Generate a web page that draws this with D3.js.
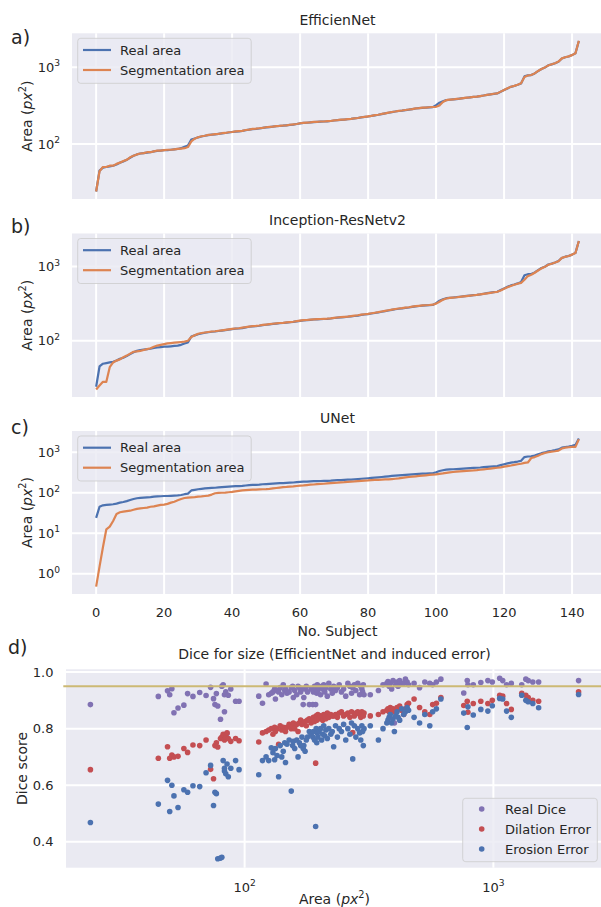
<!DOCTYPE html>
<html>
<head>
<meta charset="utf-8">
<script src="https://cdn.jsdelivr.net/npm/d3@7"></script>
<style>
  body { margin: 0; background: #ffffff; }
  svg { display: block; }
  text { font-family: "DejaVu Sans", sans-serif; fill: #262626; }
</style>
</head>
<body>
<svg id="fig" width="601" height="907"></svg>
<script>
// ---- data ---------------------------------------------------------------
// Lesion area per subject (sorted), in px^2
const realArea = [
  24, 45, 49, 50, 51, 52, 54, 57, 59, 62,
  66, 70, 73, 75, 76, 77, 78, 80, 81, 82,
  83, 83, 84, 85, 86, 88, 92, 95, 114, 118,
  122, 125, 128, 130, 132, 133, 135, 137, 139, 141,
  143, 145, 146, 148, 151, 154, 156, 157, 159, 162,
  164, 166, 168, 170, 172, 173, 175, 177, 179, 182,
  185, 188, 189, 191, 193, 194, 195, 196, 197, 199,
  202, 204, 206, 208, 210, 212, 215, 218, 222, 225,
  228, 232, 236, 240, 245, 250, 255, 260, 265, 269,
  272, 276, 280, 285, 290, 293, 296, 298, 300, 302,
  320, 345, 360, 373, 377, 381, 385, 390, 395, 400,
  405, 410, 414, 420, 428, 436, 443, 450, 456, 480,
  505, 530, 555, 570, 590, 615, 760, 785, 790, 830,
  890, 950, 990, 1060, 1090, 1130, 1180, 1300, 1350, 1380,
  1440, 1520, 2200
];

const segEfficientNet = [
  24, 44, 50, 50, 52, 52, 55, 57, 60, 62,
  67, 70, 73, 75, 76, 78, 78, 80, 82, 82,
  83, 84, 84, 85, 86, 87, 88, 91, 108, 117,
  122, 126, 128, 131, 132, 134, 135, 138, 139, 142,
  143, 146, 147, 148, 152, 154, 157, 158, 160, 162,
  165, 167, 168, 171, 172, 174, 175, 178, 180, 182,
  186, 188, 190, 191, 194, 194, 196, 196, 198, 199,
  203, 204, 207, 208, 211, 212, 216, 218, 223, 225,
  229, 232, 237, 240, 246, 250, 256, 261, 265, 270,
  273, 277, 281, 285, 291, 293, 297, 298, 301, 303,
  305, 318, 352, 372, 378, 380, 386, 390, 396, 401,
  405, 411, 414, 421, 428, 437, 443, 451, 456, 481,
  506, 531, 556, 571, 591, 618, 745, 780, 792, 832,
  895, 950, 995, 1055, 1092, 1130, 1185, 1305, 1350, 1385,
  1440, 1525, 2210
];

const segInception = [
  22, 25, 28, 28, 44, 51, 54, 56, 60, 63,
  67, 71, 72, 73, 75, 77, 79, 83, 86, 88,
  90, 92, 93, 94, 95, 96, 97, 100, 112, 118,
  124, 127, 129, 131, 133, 134, 136, 138, 140, 142,
  144, 146, 147, 150, 152, 155, 157, 158, 160, 163,
  165, 167, 169, 171, 173, 174, 176, 178, 180, 183,
  186, 189, 190, 192, 194, 195, 196, 197, 198, 200,
  203, 205, 207, 209, 211, 214, 217, 220, 224, 227,
  230, 234, 238, 242, 247, 252, 257, 262, 267, 271,
  274, 278, 282, 287, 292, 295, 298, 300, 302, 305,
  315, 335, 355, 370, 376, 380, 384, 389, 394, 399,
  404, 409, 413, 419, 426, 434, 441, 449, 455, 475,
  500, 525, 545, 565, 585, 600, 660, 740, 770, 820,
  880, 940, 985, 1050, 1085, 1125, 1175, 1300, 1345, 1380,
  1440, 1515, 2200
];

const segUNet = [
  0.48, 1.5, 4.5, 12.5, 14.5, 20, 30, 33, 34, 35,
  36, 38, 40, 41, 42, 43, 45, 46, 48, 50,
  51, 53, 57, 60, 65, 70, 74, 76, 77, 78,
  80, 81, 83, 85, 90, 97, 99, 100, 101, 103,
  105, 108, 111, 114, 116, 118, 119, 120, 121, 122,
  123, 125, 128, 131, 134, 137, 139, 142, 144, 147,
  150, 152, 155, 158, 160, 163, 165, 167, 170, 173,
  176, 178, 181, 183, 186, 189, 191, 194, 197, 200,
  202, 205, 207, 209, 211, 213, 215, 218, 222, 226,
  233, 239, 245, 250, 255, 260, 265, 270, 275, 280,
  285, 292, 300, 310, 318, 325, 332, 338, 343, 348,
  352, 356, 362, 370, 378, 386, 395, 405, 415, 425,
  440, 455, 470, 490, 505, 520, 545, 560, 720, 760,
  820, 900, 960, 1000, 1040, 1060, 1100, 1240, 1300, 1330,
  1360, 1360, 2100
];

// Dice scores per subject (same order as realArea)
const diceReal = [
  0.885, 0.914, 0.934, 0.920, 0.941, 0.856, 0.873, 0.883, 0.924, 0.914,
  0.928, 0.917, 0.946, 0.906, 0.885, 0.924, 0.880, 0.833, 0.950, 0.955,
  0.860, 0.920, 0.930, 0.783, 0.918, 0.940, 0.897, 0.897, 0.915, 0.890,
  0.958, 0.920, 0.925, 0.930, 0.940, 0.905, 0.935, 0.930, 0.945, 0.920,
  0.955, 0.935, 0.940, 0.925, 0.930, 0.945, 0.950, 0.910, 0.935, 0.920,
  0.950, 0.945, 0.930, 0.940, 0.885, 0.910, 0.940, 0.950, 0.930, 0.885,
  0.940, 0.885, 0.930, 0.950, 0.885, 0.940, 0.925, 0.955, 0.935, 0.945,
  0.920, 0.950, 0.940, 0.955, 0.930, 0.945, 0.915, 0.960, 0.940, 0.925,
  0.950, 0.935, 0.945, 0.955, 0.930, 0.940, 0.915, 0.960, 0.950, 0.925,
  0.945, 0.955, 0.935, 0.960, 0.920, 0.950, 0.940, 0.930, 0.955, 0.920,
  0.920, 0.935, 0.955, 0.960, 0.967, 0.950, 0.960, 0.940, 0.970, 0.820,
  0.955, 0.965, 0.950, 0.970, 0.960, 0.960, 0.975, 0.965, 0.955, 0.960,
  0.945, 0.965, 0.960, 0.955, 0.965, 0.975, 0.926, 0.970, 0.955, 0.955,
  0.963, 0.970, 0.965, 0.978, 0.970, 0.955, 0.960, 0.955, 0.975, 0.970,
  0.965, 0.965, 0.970
];

const diceDilation = [
  0.655, 0.695, 0.736, 0.695, 0.707, 0.700, 0.702, 0.730, 0.716, 0.742,
  0.740, 0.760, 0.656, 0.623, 0.740, 0.750, 0.735, 0.765, 0.770, 0.780,
  0.775, 0.760, 0.770, 0.785, 0.765, 0.755, 0.765, 0.757, 0.753, 0.785,
  0.790, 0.795, 0.800, 0.780, 0.805, 0.790, 0.800, 0.745, 0.810, 0.795,
  0.805, 0.800, 0.790, 0.805, 0.815, 0.800, 0.810, 0.820, 0.800, 0.815,
  0.790, 0.820, 0.830, 0.815, 0.820, 0.820, 0.825, 0.810, 0.830, 0.835,
  0.820, 0.830, 0.840, 0.825, 0.678, 0.845, 0.830, 0.840, 0.850, 0.835,
  0.845, 0.840, 0.830, 0.850, 0.845, 0.835, 0.855, 0.840, 0.850, 0.845,
  0.845, 0.850, 0.840, 0.855, 0.860, 0.845, 0.850, 0.855, 0.840, 0.860,
  0.786, 0.845, 0.855, 0.860, 0.850, 0.840, 0.860, 0.850, 0.845, 0.855,
  0.845, 0.850, 0.860, 0.865, 0.870, 0.860, 0.875, 0.865, 0.870, 0.860,
  0.865, 0.875, 0.870, 0.880, 0.865, 0.850, 0.870, 0.885, 0.890, 0.905,
  0.875, 0.860, 0.850, 0.885, 0.890, 0.910, 0.882, 0.897, 0.858, 0.889,
  0.897, 0.889, 0.900, 0.918, 0.915, 0.889, 0.868, 0.925, 0.918, 0.910,
  0.900, 0.897, 0.930
];

const diceErosion = [
  0.468, 0.533, 0.617, 0.507, 0.600, 0.562, 0.521, 0.584, 0.575, 0.598,
  0.595, 0.644, 0.670, 0.528, 0.575, 0.570, 0.340, 0.342, 0.345, 0.687,
  0.660, 0.650, 0.640, 0.675, 0.630, 0.660, 0.687, 0.655, 0.637, 0.687,
  0.700, 0.687, 0.732, 0.715, 0.690, 0.730, 0.705, 0.630, 0.740, 0.700,
  0.720, 0.750, 0.680, 0.745, 0.760, 0.579, 0.740, 0.755, 0.730, 0.760,
  0.700, 0.750, 0.740, 0.770, 0.730, 0.740, 0.720, 0.760, 0.770, 0.790,
  0.780, 0.770, 0.790, 0.760, 0.454, 0.800, 0.750, 0.785, 0.770, 0.790,
  0.800, 0.760, 0.780, 0.810, 0.775, 0.795, 0.765, 0.800, 0.780, 0.790,
  0.736, 0.810, 0.770, 0.800, 0.790, 0.815, 0.760, 0.800, 0.780, 0.820,
  0.693, 0.810, 0.770, 0.800, 0.785, 0.760, 0.810, 0.790, 0.740, 0.800,
  0.810, 0.760, 0.800, 0.820, 0.830, 0.840, 0.850, 0.820, 0.835, 0.790,
  0.845, 0.860, 0.840, 0.830, 0.870, 0.850, 0.860, 0.875, 0.865, 0.840,
  0.820, 0.850, 0.810, 0.860, 0.870, 0.905, 0.855, 0.804, 0.877, 0.848,
  0.868, 0.862, 0.881, 0.907, 0.905, 0.862, 0.840, 0.918, 0.900, 0.895,
  0.889, 0.874, 0.921
];

const subjectTicks = [0, 20, 40, 60, 80, 100, 120, 140];
const diceTicks = [0.4, 0.6, 0.8, 1.0];
const areaTicksLog = [100, 1000];
const diceThreshold = 0.95;

const lineSeriesNames = ["Real area", "Segmentation area"];
const scatterSeriesNames = ["Real Dice", "Dilation Error", "Erosion Error"];

// ---- styling ------------------------------------------------------------
const COL = {
  bg: "#EAEAF2", grid: "#FFFFFF", text: "#262626",
  blue: "#4C72B0", orange: "#DD8452", red: "#C44E52",
  purple: "#8172B3", gold: "#CCB974", legendEdge: "#CCCCCC"
};
const TICK_FS = 13, LABEL_FS = 14, TITLE_FS = 14, LEG_FS = 13, TAG_FS = 19;

const svg = d3.select("#fig");
const defs = svg.append("defs");

// "10" with a superscript exponent
function powerLabel(sel, exp, fs) {
  sel.append("tspan").text("10");
  sel.append("tspan").attr("font-size", fs * 0.7).attr("dy", -fs * 0.42).text(exp);
}

// "Area (px²)" in math-style: italic px with superscript 2
function areaLabel(sel, fs) {
  sel.append("tspan").text("Area (");
  sel.append("tspan").attr("font-style", "italic").text("px");
  sel.append("tspan").attr("font-size", fs * 0.7).attr("dy", -fs * 0.42).text("2");
  sel.append("tspan").attr("dy", fs * 0.42).text(")");
}

function logPadded(lo, hi) {
  const span = Math.log10(hi / lo);
  const pad = Math.pow(10, 0.05 * span);
  return [lo / pad, hi * pad];
}

// ---- line panels (a, b, c) ----------------------------------------------
const lineLeft = 72, lineRight = 603;
const xSubj = d3.scaleLinear().domain([-7.1, 149.1]).range([lineLeft, lineRight]);

const linePanels = [
  { tag: "a)", tagY: 44.2, title: "EfficienNet", seg: segEfficientNet, top: 33.3, bottom: 199, showX: false },
  { tag: "b)", tagY: 232.5, title: "Inception-ResNetv2", seg: segInception, top: 233.5, bottom: 397, showX: false },
  { tag: "c)", tagY: 434.2, title: "UNet", seg: segUNet, top: 431, bottom: 594, showX: true }
];

linePanels.forEach((p, pi) => {
  const g = svg.append("g");
  const all = realArea.concat(p.seg);
  const y = d3.scaleLog().domain(logPadded(d3.min(all), d3.max(all))).range([p.bottom, p.top]);

  g.append("rect").attr("x", lineLeft).attr("y", p.top)
    .attr("width", lineRight - lineLeft).attr("height", p.bottom - p.top).attr("fill", COL.bg);

  // grid
  g.selectAll(".vg").data(subjectTicks).join("line")
    .attr("x1", d => xSubj(d)).attr("x2", d => xSubj(d))
    .attr("y1", p.top).attr("y2", p.bottom)
    .attr("stroke", COL.grid).attr("stroke-width", 2);

  const [d0, d1] = y.domain();
  const decades = d3.range(Math.ceil(Math.log10(d0)), Math.floor(Math.log10(d1)) + 1);
  g.selectAll(".hg").data(decades).join("line")
    .attr("x1", lineLeft).attr("x2", lineRight)
    .attr("y1", d => y(Math.pow(10, d))).attr("y2", d => y(Math.pow(10, d)))
    .attr("stroke", COL.grid).attr("stroke-width", 2);

  // y tick labels
  decades.forEach(k => {
    const t = g.append("text").attr("x", lineLeft - 12).attr("y", y(Math.pow(10, k)) + 4.7)
      .attr("text-anchor", "end").attr("font-size", TICK_FS);
    powerLabel(t, String(k), TICK_FS);
  });

  // clip
  const cid = "clip" + pi;
  defs.append("clipPath").attr("id", cid).append("rect")
    .attr("x", lineLeft).attr("y", p.top).attr("width", lineRight - lineLeft).attr("height", p.bottom - p.top);

  const line = d3.line().x((d, i) => xSubj(i)).y(d => y(d));
  const lg = g.append("g").attr("clip-path", `url(#${cid})`);
  lg.append("path").datum(realArea).attr("d", line)
    .attr("fill", "none").attr("stroke", COL.blue).attr("stroke-width", 2.2).attr("stroke-linejoin", "round");
  lg.append("path").datum(p.seg).attr("d", line)
    .attr("fill", "none").attr("stroke", COL.orange).attr("stroke-width", 2.2).attr("stroke-linejoin", "round");

  // legend
  const lx = 77.7, ly = p.top + 5;
  g.append("rect").attr("x", lx).attr("y", ly).attr("width", 173.5).attr("height", 45)
    .attr("rx", 3).attr("fill", COL.bg).attr("fill-opacity", 0.8)
    .attr("stroke", COL.legendEdge).attr("stroke-opacity", 0.8).attr("stroke-width", 1);
  [COL.blue, COL.orange].forEach((c, i) => {
    const ry = ly + 11.7 + i * 20;
    g.append("line").attr("x1", 83).attr("x2", 111).attr("y1", ry).attr("y2", ry)
      .attr("stroke", c).attr("stroke-width", 2.2);
    g.append("text").attr("x", 120).attr("y", ry + 4.7).attr("font-size", LEG_FS).text(lineSeriesNames[i]);
  });

  // title, tag, y label
  g.append("text").attr("x", (lineLeft + lineRight) / 2).attr("y", p.top - 8.3)
    .attr("text-anchor", "middle").attr("font-size", TITLE_FS).text(p.title);
  g.append("text").attr("x", 11).attr("y", p.tagY).attr("font-size", TAG_FS).text(p.tag);
  const yl = g.append("text").attr("font-size", LABEL_FS).attr("text-anchor", "middle")
    .attr("transform", `translate(31.5,${(p.top + p.bottom) / 2}) rotate(-90)`);
  areaLabel(yl, LABEL_FS);

  if (p.showX) {
    g.selectAll(".xt").data(subjectTicks).join("text")
      .attr("x", d => xSubj(d)).attr("y", p.bottom + 23.3)
      .attr("text-anchor", "middle").attr("font-size", TICK_FS).text(d => d);
    g.append("text").attr("x", (lineLeft + lineRight) / 2).attr("y", p.bottom + 42)
      .attr("text-anchor", "middle").attr("font-size", LABEL_FS).text("No. Subject");
  }
});

// ---- scatter panel (d) --------------------------------------------------
{
  const left = 66, right = 603, top = 669.3, bottom = 867.7;
  const g = svg.append("g");
  const x = d3.scaleLog().domain(logPadded(d3.min(realArea), d3.max(realArea))).range([left, right]);
  const allDice = diceReal.concat(diceDilation, diceErosion);
  const lo = d3.min(allDice), hi = d3.max(allDice), pad = 0.05 * (hi - lo);
  const y = d3.scaleLinear().domain([lo - pad, hi + pad]).range([bottom, top]);

  g.append("rect").attr("x", left).attr("y", top).attr("width", right - left).attr("height", bottom - top)
    .attr("fill", COL.bg);
  g.selectAll(".vg").data(areaTicksLog).join("line")
    .attr("x1", d => x(d)).attr("x2", d => x(d)).attr("y1", top).attr("y2", bottom)
    .attr("stroke", COL.grid).attr("stroke-width", 2);
  g.selectAll(".hg").data(diceTicks).join("line")
    .attr("x1", left).attr("x2", right).attr("y1", d => y(d)).attr("y2", d => y(d))
    .attr("stroke", COL.grid).attr("stroke-width", 2);

  g.selectAll(".yt").data(diceTicks).join("text")
    .attr("x", left - 12.5).attr("y", d => y(d) + 4.7).attr("text-anchor", "end")
    .attr("font-size", TICK_FS).text(d => d.toFixed(1));
  areaTicksLog.forEach(v => {
    const t = g.append("text").attr("x", x(v)).attr("y", bottom + 24)
      .attr("text-anchor", "middle").attr("font-size", TICK_FS);
    powerLabel(t, String(Math.round(Math.log10(v))), TICK_FS);
  });

  defs.append("clipPath").attr("id", "clipd").append("rect")
    .attr("x", left).attr("y", top).attr("width", right - left).attr("height", bottom - top);
  const pg = g.append("g").attr("clip-path", "url(#clipd)");
  const series = [
    { vals: diceReal, col: COL.purple },
    { vals: diceDilation, col: COL.red },
    { vals: diceErosion, col: COL.blue }
  ];
  series.forEach(s => {
    pg.append("g").selectAll("circle").data(s.vals).join("circle")
      .attr("cx", (d, i) => x(realArea[i])).attr("cy", d => y(d)).attr("r", 2.8)
      .attr("fill", s.col);
  });

  // reference Dice level
  g.append("line").attr("x1", 63.3).attr("x2", right)
    .attr("y1", y(diceThreshold)).attr("y2", y(diceThreshold))
    .attr("stroke", COL.gold).attr("stroke-width", 2.2);

  // legend
  g.append("rect").attr("x", 462.7).attr("y", 798.3).attr("width", 134.6).attr("height", 63.4)
    .attr("rx", 3).attr("fill", COL.bg).attr("fill-opacity", 0.8)
    .attr("stroke", COL.legendEdge).attr("stroke-opacity", 0.8).attr("stroke-width", 1);
  series.forEach((s, i) => {
    const ry = 809 + i * 20;
    g.append("circle").attr("cx", 481.7).attr("cy", ry).attr("r", 2.8).attr("fill", s.col);
    g.append("text").attr("x", 505).attr("y", ry + 4.7).attr("font-size", LEG_FS).text(scatterSeriesNames[i]);
  });

  g.append("text").attr("x", (left + right) / 2).attr("y", top - 10.5)
    .attr("text-anchor", "middle").attr("font-size", TITLE_FS)
    .text("Dice for size (EfficientNet and induced error)");
  g.append("text").attr("x", 8).attr("y", 654.2).attr("font-size", TAG_FS).text("d)");
  g.append("text").attr("font-size", LABEL_FS).attr("text-anchor", "middle")
    .attr("transform", `translate(26.5,${(top + bottom) / 2}) rotate(-90)`).text("Dice score");
  const xl = g.append("text").attr("x", (left + right) / 2).attr("y", bottom + 36.5)
    .attr("text-anchor", "middle").attr("font-size", LABEL_FS);
  areaLabel(xl, LABEL_FS);
}
</script>
</body>
</html>
